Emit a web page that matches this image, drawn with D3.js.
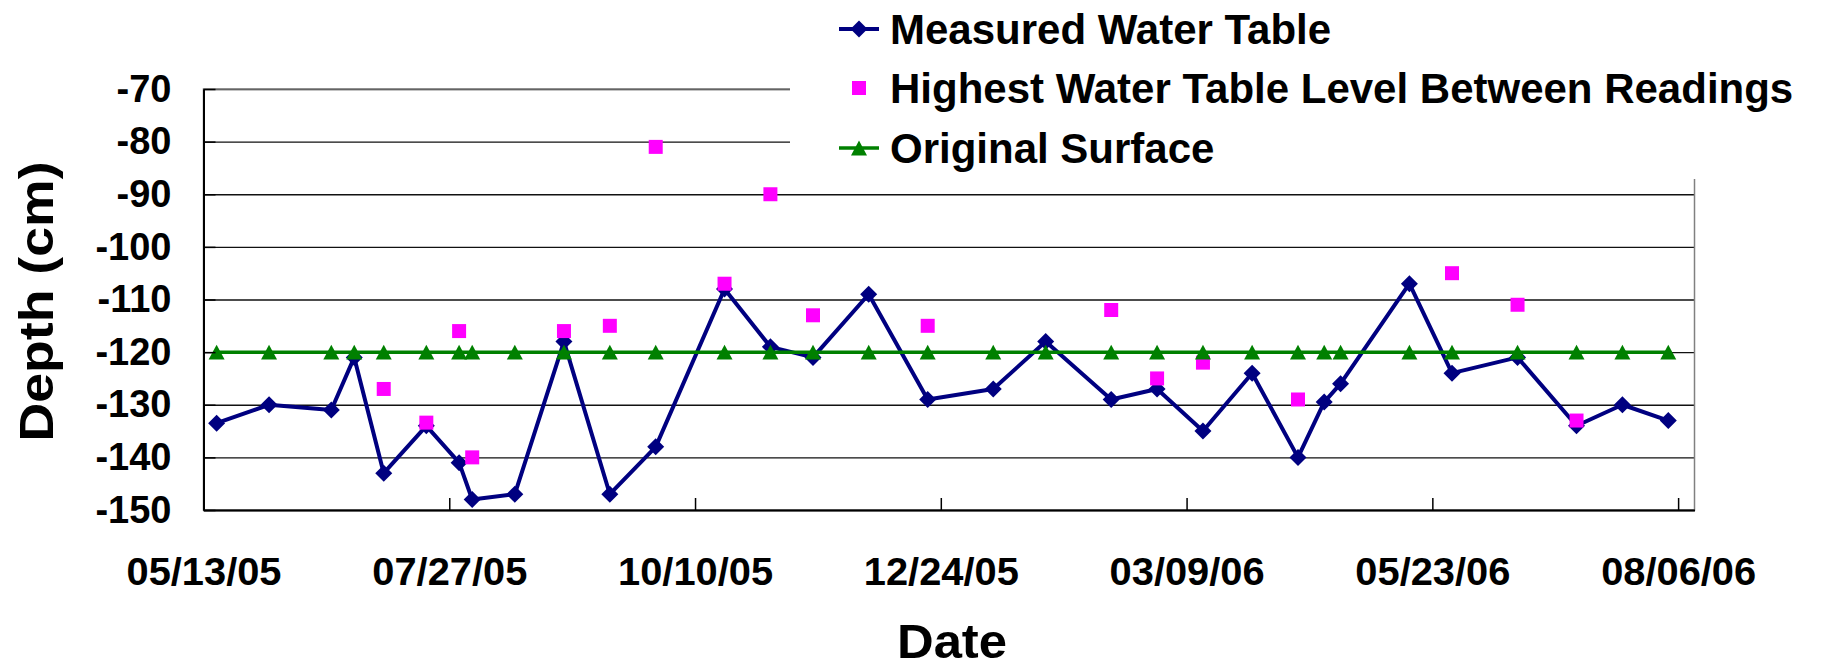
<!DOCTYPE html>
<html>
<head>
<meta charset="utf-8">
<script src="https://cdn.jsdelivr.net/npm/d3@7/dist/d3.min.js"></script>
<style>
  html, body { margin: 0; padding: 0; background: #fff; }
  svg { display: block; font-family: "Liberation Sans", Arial, sans-serif; font-weight: bold; }
</style>
</head>
<body>
<svg id="chart" width="1834" height="667"></svg>
<script>
// Water table readings (depth below reference, cm)
const measuredDates = ["05/17/05","06/02/05","06/21/05","06/28/05","07/07/05","07/20/05","07/30/05","08/03/05",
  "08/16/05","08/31/05","09/14/05","09/28/05","10/19/05","11/02/05","11/15/05","12/02/05",
  "12/20/05","01/09/06","01/25/06","02/14/06","02/28/06","03/14/06","03/29/06","04/12/06",
  "04/20/06","04/25/06","05/16/06","05/29/06","06/18/06","07/06/06","07/20/06","08/03/06"];
const measuredDepth = [-133.5,-130,-131,-121,-143,-134,-141,-148,
  -147,-118,-147,-138,-108,-119,-121,-109,
  -129,-127,-118,-129,-127,-135,-124,-140,
  -129.5,-126,-107,-124,-121,-134,-130,-133];

const highestDates = ["07/07/05","07/20/05","07/30/05","08/03/05","08/31/05","09/14/05","09/28/05","10/19/05",
  "11/02/05","11/15/05","12/20/05","02/14/06","02/28/06","03/14/06","04/12/06","05/29/06",
  "06/18/06","07/06/06"];
const highestDepth = [-127,-133.4,-116,-140,-116,-115,-81,-107,
  -90,-113,-115,-112,-125,-122,-129,-105,
  -111,-133];

const surfaceDates = measuredDates;
const surfaceDepth = [-120,-120,-120,-120,-120,-120,-120,-120,
  -120,-120,-120,-120,-120,-120,-120,-120,
  -120,-120,-120,-120,-120,-120,-120,-120,
  -120,-120,-120,-120,-120,-120,-120,-120];

const xTickLabels = ["05/13/05","07/27/05","10/10/05","12/24/05","03/09/06","05/23/06","08/06/06"];
const yTickValues = [-70,-80,-90,-100,-110,-120,-130,-140,-150];
const xDomain = ["05/13/05","08/11/06"];
const yDomain = [-150,-70];

const seriesNames = ["Measured Water Table","Highest Water Table Level Between Readings","Original Surface"];
const seriesColors = ["#000080","#FF00FF","#008000"];

// ---- layout ----
const parse = d3.timeParse("%m/%d/%y");
const fmt = d3.timeFormat("%m/%d/%y");
const plot = { left: 203.5, right: 1694.5, top: 89, bottom: 510 };
const FONT = "Liberation Sans, Arial, sans-serif";

const svg = d3.select("#chart");

const x = d3.scaleTime().domain(xDomain.map(parse)).range([plot.left, plot.right]);
const y = d3.scaleLinear().domain(yDomain).range([plot.bottom, plot.top]);

// Marker shapes in the spreadsheet style
const diamondType = { draw(ctx, size) { const r = Math.sqrt(size) / 2;
  ctx.moveTo(0, -r); ctx.lineTo(r, 0); ctx.lineTo(0, r); ctx.lineTo(-r, 0); ctx.closePath(); } };
const triangleType = { draw(ctx, size) { const w = Math.sqrt(size); const h = w * 0.93;
  ctx.moveTo(0, -h / 2); ctx.lineTo(w / 2, h / 2); ctx.lineTo(-w / 2, h / 2); ctx.closePath(); } };
const squareType = { draw(ctx, size) { const s = Math.sqrt(size) / 2;
  ctx.rect(-s, -s, 2 * s, 2 * s); } };

const diamond = d3.symbol().type(diamondType).size(17 * 17);
const triangle = d3.symbol().type(triangleType).size(16 * 16);
const square = d3.symbol().type(squareType).size(14 * 14);

// ---- gridlines & plot border ----
const grid = svg.append("g").attr("transform", `translate(${plot.left},0)`)
  .call(d3.axisLeft(y).tickValues(yTickValues).tickSize(-(plot.right - plot.left)).tickFormat(""));
grid.select(".domain").remove();
grid.selectAll("line").attr("stroke", "#111").attr("stroke-width", 1.3);

svg.append("rect")
  .attr("x", plot.left).attr("y", plot.top)
  .attr("width", plot.right - plot.left).attr("height", plot.bottom - plot.top)
  .attr("fill", "none").attr("stroke", "#808080").attr("stroke-width", 1.5);

// ---- series ----
const measured = measuredDates.map((d, i) => ({ date: parse(d), v: measuredDepth[i] }));
const highest = highestDates.map((d, i) => ({ date: parse(d), v: highestDepth[i] }));
const surface = surfaceDates.map((d, i) => ({ date: parse(d), v: surfaceDepth[i] }));

const line = d3.line().x(d => x(d.date)).y(d => y(d.v));

svg.append("path").datum(measured)
  .attr("d", line).attr("fill", "none")
  .attr("stroke", seriesColors[0]).attr("stroke-width", 4).attr("stroke-linejoin", "round");
svg.append("g").selectAll("path").data(measured).join("path")
  .attr("transform", d => `translate(${x(d.date)},${y(d.v)})`)
  .attr("d", diamond).attr("fill", seriesColors[0]);

svg.append("g").selectAll("path").data(highest).join("path")
  .attr("transform", d => `translate(${x(d.date)},${y(d.v)})`)
  .attr("d", square).attr("fill", seriesColors[1]);

svg.append("path").datum(surface)
  .attr("d", line).attr("fill", "none")
  .attr("stroke", seriesColors[2]).attr("stroke-width", 3.5);
svg.append("g").selectAll("path").data(surface).join("path")
  .attr("transform", d => `translate(${x(d.date)},${y(d.v)})`)
  .attr("d", triangle).attr("fill", seriesColors[2]);

// ---- axes ----
const xAxis = svg.append("g").attr("transform", `translate(0,${plot.bottom})`)
  .call(d3.axisBottom(x).tickValues(xTickLabels.map(parse)).tickFormat(fmt)
    .tickSizeInner(-12).tickSizeOuter(0).tickPadding(48));
xAxis.select(".domain").attr("stroke", "#000").attr("stroke-width", 2);
xAxis.selectAll(".tick line").attr("stroke", "#000").attr("stroke-width", 1.5);
xAxis.selectAll("text").attr("font-size", 38).attr("font-weight", "bold")
  .attr("font-family", FONT).attr("fill", "#000")
  .attr("textLength", 155).attr("lengthAdjust", "spacingAndGlyphs");

const yAxis = svg.append("g").attr("transform", `translate(${plot.left},0)`)
  .call(d3.axisLeft(y).tickValues(yTickValues).tickFormat(d3.format("d"))
    .tickSizeInner(-12).tickSizeOuter(0).tickPadding(32));
yAxis.select(".domain").attr("stroke", "#000").attr("stroke-width", 2);
yAxis.selectAll(".tick line").attr("stroke", "#000").attr("stroke-width", 1.5);
yAxis.selectAll("text").attr("font-size", 38).attr("font-weight", "bold")
  .attr("font-family", FONT).attr("fill", "#000")
  .text(d => String(d).replace("\u2212", "-"));

// ---- axis titles ----
svg.append("text")
  .attr("x", (plot.left + plot.right) / 2 + 3).attr("y", 658)
  .attr("text-anchor", "middle").attr("font-size", 48)
  .attr("textLength", 110).attr("lengthAdjust", "spacingAndGlyphs").text("Date");
svg.append("text")
  .attr("transform", `translate(53,${(plot.top + plot.bottom) / 2 + 2}) rotate(-90)`)
  .attr("text-anchor", "middle").attr("font-size", 49)
  .attr("textLength", 280).attr("lengthAdjust", "spacingAndGlyphs").text("Depth (cm)");

// ---- legend ----
svg.append("rect").attr("x", 790).attr("y", 0).attr("width", 1834 - 790).attr("height", 179).attr("fill", "#fff");
const legendRows = [29, 88, 148];
const lg = svg.append("g");
seriesNames.forEach((name, i) => {
  const cy = legendRows[i];
  if (i !== 1) {
    lg.append("line").attr("x1", 839).attr("x2", 879).attr("y1", cy).attr("y2", cy)
      .attr("stroke", seriesColors[i]).attr("stroke-width", i === 0 ? 4 : 3.5);
  }
  lg.append("path").attr("transform", `translate(859,${cy})`)
    .attr("d", i === 0 ? diamond : i === 1 ? square : triangle)
    .attr("fill", seriesColors[i]);
  lg.append("text").attr("x", 890).attr("y", cy + 15).attr("font-size", 42).text(name);
});
</script>
</body>
</html>
